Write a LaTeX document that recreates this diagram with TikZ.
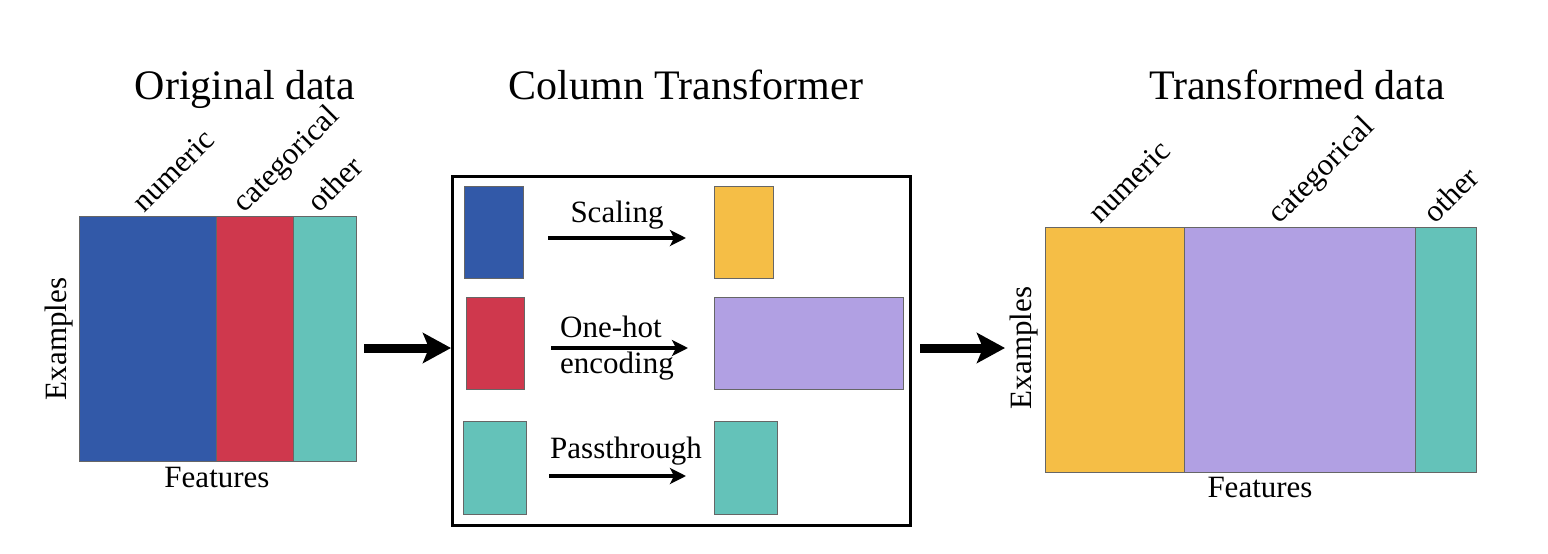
\documentclass[tikz,border=0pt]{standalone}
\usepackage{fontspec}
\setmainfont{Liberation Serif}
\usetikzlibrary{positioning,arrows.meta}

\definecolor{numblue}{HTML}{3259A8}
\definecolor{catred}{HTML}{CF384D}
\definecolor{othteal}{HTML}{64C2B9}
\definecolor{scalyellow}{HTML}{F5BE46}
\definecolor{ohpurple}{HTML}{B1A0E3}

\begin{document}
\begin{tikzpicture}[
  x=1pt, y=-1pt,
  col/.style={rectangle, draw=black!60, line width=1pt, inner sep=0pt, outer sep=0pt, anchor=north west},
  tag/.style={font=\fontsize{31}{34}\selectfont, rotate=45, anchor=base west, inner sep=0pt},
  title/.style={font=\fontsize{42}{46}\selectfont, anchor=base, inner sep=0pt},
  lbl/.style={font=\fontsize{31}{34}\selectfont, anchor=base, inner sep=0pt},
  arr/.style={-{Stealth[length=16pt,width=16pt,inset=4pt]}, line width=3.5pt},
  bigarr/.style={-{Stealth[length=28pt,width=30pt,inset=6pt]}, line width=9pt}
]
\useasboundingbox (0,0) rectangle (1548,554);

% original data
\node[title] (ttlorig) at (245,99) {Original data};
\node[col, fill=numblue, minimum width=137pt, minimum height=245pt] (onum) at (79,216) {};
\node[col, fill=catred, minimum width=77pt, minimum height=245pt, right=0pt of onum] (ocat) {};
\node[col, fill=othteal, minimum width=63pt, minimum height=245pt, right=0pt of ocat] (ooth) {};
\node[tag] (tonum) at ([xshift=-3pt,yshift=2pt]onum.north) {numeric};
\node[tag] (tocat) at ([xshift=-10pt,yshift=2pt]ocat.north) {categorical};
\node[tag] (tooth) at ([xshift=-5pt,yshift=2pt]ooth.north) {other};
\node[lbl] (featorig) at (217,487) {Features};
\node[lbl, rotate=90] (exorig) at (66,339) {Examples};

% column transformer
\node[title] (ttlct) at (686,99) {Column Transformer};
\node[rectangle, draw, line width=3pt, inner sep=0pt, minimum width=458pt, minimum height=349pt] (ct) at (681.5,351) {};

\node[col, fill=numblue, minimum width=59pt, minimum height=92pt] (sin) at (464,186) {};
\node[col, fill=scalyellow, minimum width=59pt, minimum height=92pt] (sout) at (714,186) {};
\node[col, fill=catred, minimum width=58pt, minimum height=92pt] (hin) at (466,297) {};
\node[col, fill=ohpurple, minimum width=189pt, minimum height=92pt] (hout) at (714,297) {};
\node[col, fill=othteal, minimum width=63pt, minimum height=93pt] (pin) at (463,421) {};
\node[col, fill=othteal, minimum width=63pt, minimum height=93pt] (pout) at (714,421) {};

\draw[arr] ([xshift=25pt,yshift=-6pt]sin.east) -- ([xshift=-28pt,yshift=-6pt]sout.west);
\draw[arr] ([xshift=27pt,yshift=-5pt]hin.east) -- ([xshift=-26pt,yshift=-5pt]hout.west);
\draw[arr] ([xshift=23pt,yshift=-8.5pt]pin.east) -- ([xshift=-28pt,yshift=-8.5pt]pout.west);

\node[lbl] (scal) at (617,222) {Scaling};
\node[lbl] (onehot) at (611,337) {One-hot};
\node[lbl] (enc) at (617,373) {encoding};
\node[lbl] (pass) at (626,458) {Passthrough};

% transformed data
\node[title] (ttltr) at (1297,99) {Transformed data};
\node[col, fill=scalyellow, minimum width=139pt, minimum height=245pt] (tnum) at (1045,227) {};
\node[col, fill=ohpurple, minimum width=231pt, minimum height=245pt, right=0pt of tnum] (tcat) {};
\node[col, fill=othteal, minimum width=61pt, minimum height=245pt, right=0pt of tcat] (toth) {};
\node[tag] (ttnum) at ([xshift=-14pt,yshift=2pt]tnum.north) {numeric};
\node[tag] (ttcat) at ([xshift=-20pt,yshift=2pt]tcat.north) {categorical};
\node[tag] (ttoth) at ([xshift=-10pt,yshift=2pt]toth.north) {other};
\node[lbl] (feattr) at (1260,497) {Features};
\node[lbl, rotate=90] (extr) at (1031,348) {Examples};

\draw[bigarr] ([xshift=8pt,yshift=-9.5pt]ooth.east) -- ([yshift=3pt]ct.west);
\draw[bigarr] ([xshift=8pt,yshift=3pt]ct.east) -- ([xshift=-40pt,yshift=1.5pt]tnum.west);
\end{tikzpicture}
\end{document}
